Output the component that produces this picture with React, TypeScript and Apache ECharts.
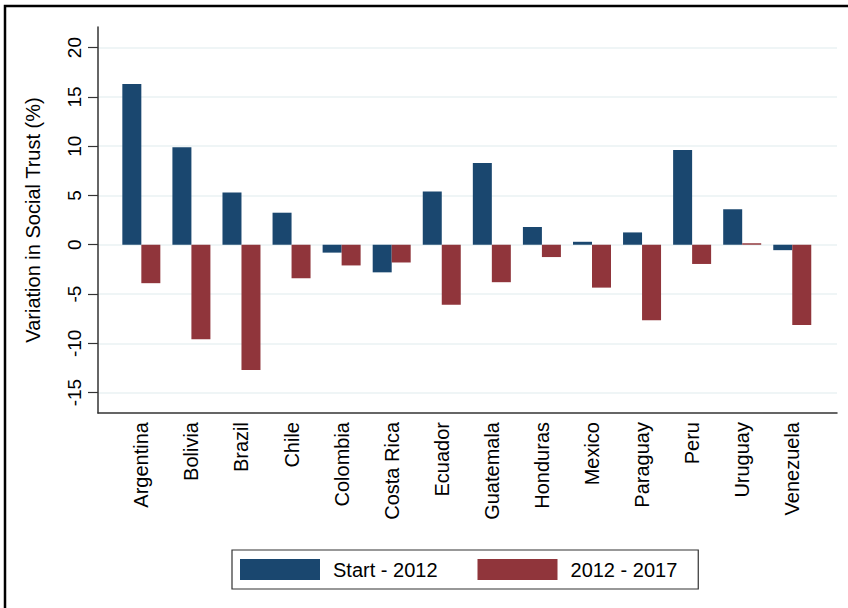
import React, { useEffect, useRef } from "react";
import * as echarts from "echarts";

const countries = [
  "Argentina", "Bolivia", "Brazil", "Chile", "Colombia", "Costa Rica", "Ecuador",
  "Guatemala", "Honduras", "Mexico", "Paraguay", "Peru", "Uruguay", "Venezuela",
];
const startTo2012 = [16.3, 9.9, 5.3, 3.25, -0.8, -2.8, 5.4, 8.3, 1.8, 0.3, 1.25, 9.6, 3.6, -0.55];
const from2012To2017 = [-3.9, -9.6, -12.7, -3.4, -2.1, -1.8, -6.1, -3.8, -1.25, -4.35, -7.65, -1.95, 0.15, -8.15];
const yTicks = [-15, -10, -5, 0, 5, 10, 15, 20];
const seriesNames = ["Start - 2012", "2012 - 2017"];

const FONT = "'Liberation Sans', Arial, Helvetica, sans-serif";
const Y_MIN = -17.07;
const Y_MAX = 22.09;

export default function App() {
  const ref = useRef<HTMLDivElement>(null);
  useEffect(() => {
    if (!ref.current) return;
    const chart = echarts.init(ref.current, null, { renderer: "svg" });
    chart.setOption({
      animation: false,
      backgroundColor: "#ffffff",
      textStyle: { fontFamily: FONT, color: "#000" },
      grid: [
        { left: 98, right: 11, top: 27, bottom: 195, containLabel: false },
        { left: 116.3, right: 30.7, top: 27, bottom: 195, containLabel: false },
      ],
      xAxis: [
        {
          type: "value",
          gridIndex: 0,
          min: 0,
          max: 1,
          axisLine: { show: true, onZero: false, lineStyle: { color: "#333", width: 1.5 } },
          axisTick: { show: false },
          axisLabel: { show: false },
          splitLine: { show: false },
        },
        {
          type: "category",
          gridIndex: 1,
          data: countries,
          axisLine: { show: false, onZero: false },
          axisTick: { show: false },
          axisLabel: {
            rotate: 90,
            margin: 9,
            fontSize: 20,
            color: "#000",
            fontFamily: FONT,
            interval: 0,
          },
          splitLine: { show: false },
        },
      ],
      yAxis: [
        {
          type: "value",
          gridIndex: 0,
          min: Y_MIN,
          max: Y_MAX,
          name: "Variation in Social Trust (%)",
          nameLocation: "middle",
          nameGap: 55,
          nameTextStyle: { fontSize: 20, color: "#000", fontFamily: FONT },
          axisLine: { show: true, onZero: false, lineStyle: { color: "#333", width: 1.5 } },
          axisTick: {
            show: true,
            length: 10,
            customValues: yTicks,
            lineStyle: { color: "#333", width: 1.2 },
          },
          axisLabel: {
            customValues: yTicks,
            rotate: 90,
            margin: 14,
            fontSize: 19,
            color: "#000",
            fontFamily: FONT,
          },
          splitLine: { show: true, lineStyle: { color: "#eaf2f3", width: 1.5 } },
        },
        {
          type: "value",
          gridIndex: 1,
          min: Y_MIN,
          max: Y_MAX,
          axisLine: { show: false },
          axisTick: { show: false },
          axisLabel: { show: false },
          splitLine: { show: false },
        },
      ],
      legend: {
        left: 232,
        top: 550,
        orient: "horizontal",
        data: seriesNames,
        icon: "rect",
        itemWidth: 80,
        itemHeight: 21,
        itemGap: 40,
        padding: [9, 21, 9, 8],
        borderColor: "#333",
        borderWidth: 1.2,
        backgroundColor: "#fff",
        textStyle: { fontSize: 20, color: "#000", fontFamily: FONT, padding: [0, 0, 0, 8] },
      },
      series: [
        {
          name: seriesNames[0],
          type: "bar",
          xAxisIndex: 1,
          yAxisIndex: 1,
          data: startTo2012,
          barWidth: 19,
          barGap: "0%",
          itemStyle: { color: "#1a476f" },
        },
        {
          name: seriesNames[1],
          type: "bar",
          xAxisIndex: 1,
          yAxisIndex: 1,
          data: from2012To2017,
          barWidth: 19,
          barGap: "0%",
          itemStyle: { color: "#90353b" },
        },
      ],
      graphic: [
        {
          type: "rect",
          shape: { x: 5, y: 6, width: 900, height: 700 },
          style: { fill: "none", stroke: "#000", lineWidth: 2.5 },
          silent: true,
        },
      ],
    });
    return () => chart.dispose();
  }, []);
  return (
    <div
      ref={ref}
      style={{ position: "fixed", left: 0, top: 0, width: 848, height: 608 }}
    />
  );
}
